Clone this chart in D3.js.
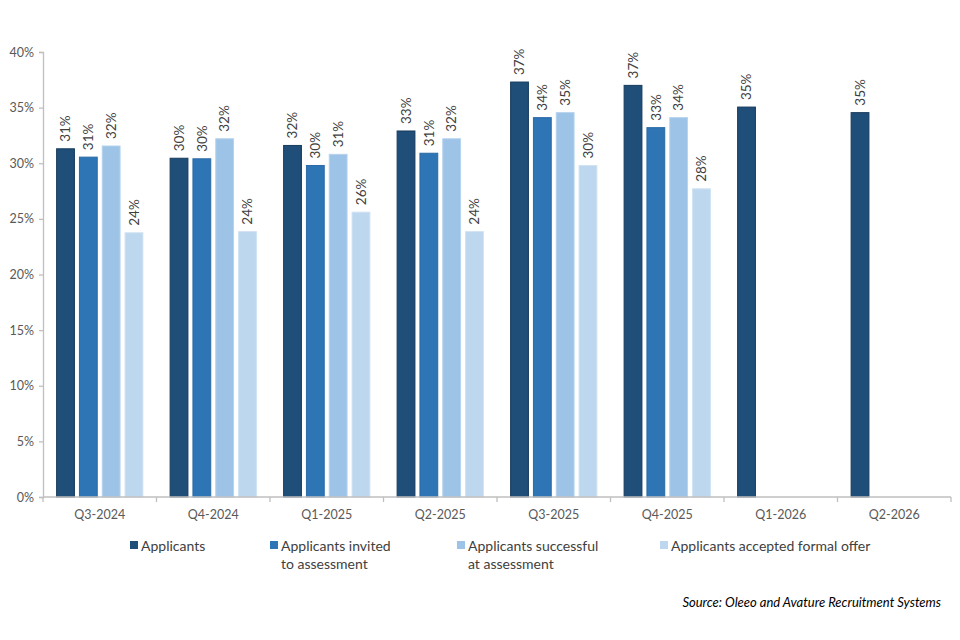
<!DOCTYPE html>
<html>
<head>
<meta charset="utf-8">
<script src="https://cdn.jsdelivr.net/npm/d3@7"></script>
<style>
  html, body { margin: 0; padding: 0; background: #fff; }
  svg { display: block; font-family: Lato, "Liberation Sans", sans-serif; }
</style>
</head>
<body>
<svg id="chart" width="960" height="640"></svg>
<script>
const categories = ["Q3-2024", "Q4-2024", "Q1-2025", "Q2-2025", "Q3-2025", "Q4-2025", "Q1-2026", "Q2-2026"];
const seriesNames = ["Applicants", "Applicants invited to assessment", "Applicants successful at assessment", "Applicants accepted formal offer"];
const legendLines = [["Applicants"], ["Applicants invited", "to assessment"], ["Applicants successful", "at assessment"], ["Applicants accepted formal offer"]];
const applicants = [31.3, 30.45, 31.6, 32.9, 37.3, 37.0, 35.05, 34.55];
const invited    = [30.55, 30.4, 29.8, 30.9, 34.1, 33.2, null, null];
const successful = [31.55, 32.2, 30.8, 32.2, 34.55, 34.1, null, null];
const accepted   = [23.75, 23.85, 25.6, 23.85, 29.8, 27.7, null, null];
const yTicks = [0, 5, 10, 15, 20, 25, 30, 35, 40];
const colors = ["#1F4E79", "#2E75B6", "#9DC3E6", "#BDD7EE"];
const strokes = ["#173b5c", "#2a6aa6", "#b5d3ee", "#cfe2f3"];

const seriesValues = [applicants, invited, successful, accepted];

const svg = d3.select("#chart");
const mLeft = 43, mRight = 951, mTop = 52, mBottom = 497;

const y = d3.scaleLinear().domain([0, 40]).range([mBottom, mTop]);
const x0 = d3.scaleBand().domain(categories).range([mLeft, mRight]).paddingInner(0.24).paddingOuter(0.12);
const x1 = d3.scaleBand().domain(d3.range(seriesNames.length)).range([0, x0.bandwidth()]).paddingInner(0.22);

// Y axis
const yAxis = d3.axisLeft(y).tickValues(yTicks).tickFormat(d => d + "%").tickSize(4).tickPadding(5);
const gy = svg.append("g").attr("transform", `translate(${mLeft},0)`).call(yAxis);
gy.select(".domain").attr("stroke", "#bfbfbf").attr("stroke-width", 1.3);
gy.selectAll(".tick line").attr("stroke", "#bfbfbf").attr("stroke-width", 1.3);
gy.selectAll(".tick text").attr("fill", "#595959").style("font-size", "12.5px").style("font-family", "Lato, sans-serif");

// Bars
const groups = svg.append("g").selectAll("g").data(categories).join("g")
  .attr("transform", d => `translate(${x0(d)},0)`);

groups.each(function(cat, ci) {
  const g = d3.select(this);
  seriesValues.forEach((vals, si) => {
    const v = vals[ci];
    if (v == null) return;
    g.append("rect")
      .attr("x", x1(si))
      .attr("y", y(v))
      .attr("width", x1.bandwidth())
      .attr("height", y(0) - y(v))
      .attr("fill", colors[si])
      .attr("stroke", strokes[si])
      .attr("stroke-width", 1);
    const cx = x1(si) + x1.bandwidth() / 2;
    const ly = y(v) - 7;
    g.append("text")
      .attr("transform", `translate(${cx + 4.8},${ly}) rotate(-90)`)
      .attr("fill", "#404040")
      .style("font-size", "13.5px")
      .attr("text-anchor", "start")
      .text(Math.round(v) + "%");
  });
});

// X axis
const gx = svg.append("g").attr("transform", `translate(0,${mBottom})`);
gx.append("line").attr("x1", mLeft).attr("x2", mRight).attr("y1", 0).attr("y2", 0)
  .attr("stroke", "#bfbfbf").attr("stroke-width", 1.3);
const boundaries = categories.map(c => x0(c) - x0.step() * x0.paddingOuter()).concat([mRight]);
gx.selectAll("line.tk").data(boundaries).join("line").attr("class", "tk")
  .attr("x1", d => d).attr("x2", d => d).attr("y1", 0).attr("y2", 5)
  .attr("stroke", "#bfbfbf").attr("stroke-width", 1.3);
gx.selectAll("text").data(categories).join("text")
  .attr("x", d => x0(d) + x0.bandwidth() / 2)
  .attr("y", 22)
  .attr("text-anchor", "middle")
  .attr("fill", "#595959")
  .style("font-size", "12.5px")
  .text(d => d);

// Legend
const legendX = [130, 270, 457, 660];
const lg = svg.append("g");
seriesNames.forEach((name, i) => {
  lg.append("rect").attr("x", legendX[i]).attr("y", 541).attr("width", 8).attr("height", 8).attr("fill", colors[i]);
  const t = lg.append("text").attr("x", legendX[i] + 11).attr("y", 550.5)
    .attr("fill", "#404040").style("font-size", "14px");
  legendLines[i].forEach((line, li) => {
    t.append("tspan").attr("x", legendX[i] + 11).attr("dy", li === 0 ? 0 : 18).text(line);
  });
});

// Source
svg.append("text").attr("x", 941).attr("y", 607).attr("text-anchor", "end")
  .style("font-size", "13px").style("font-style", "italic").attr("fill", "#000")
  .text("Source: Oleeo and Avature Recruitment Systems");
</script>
</body>
</html>
